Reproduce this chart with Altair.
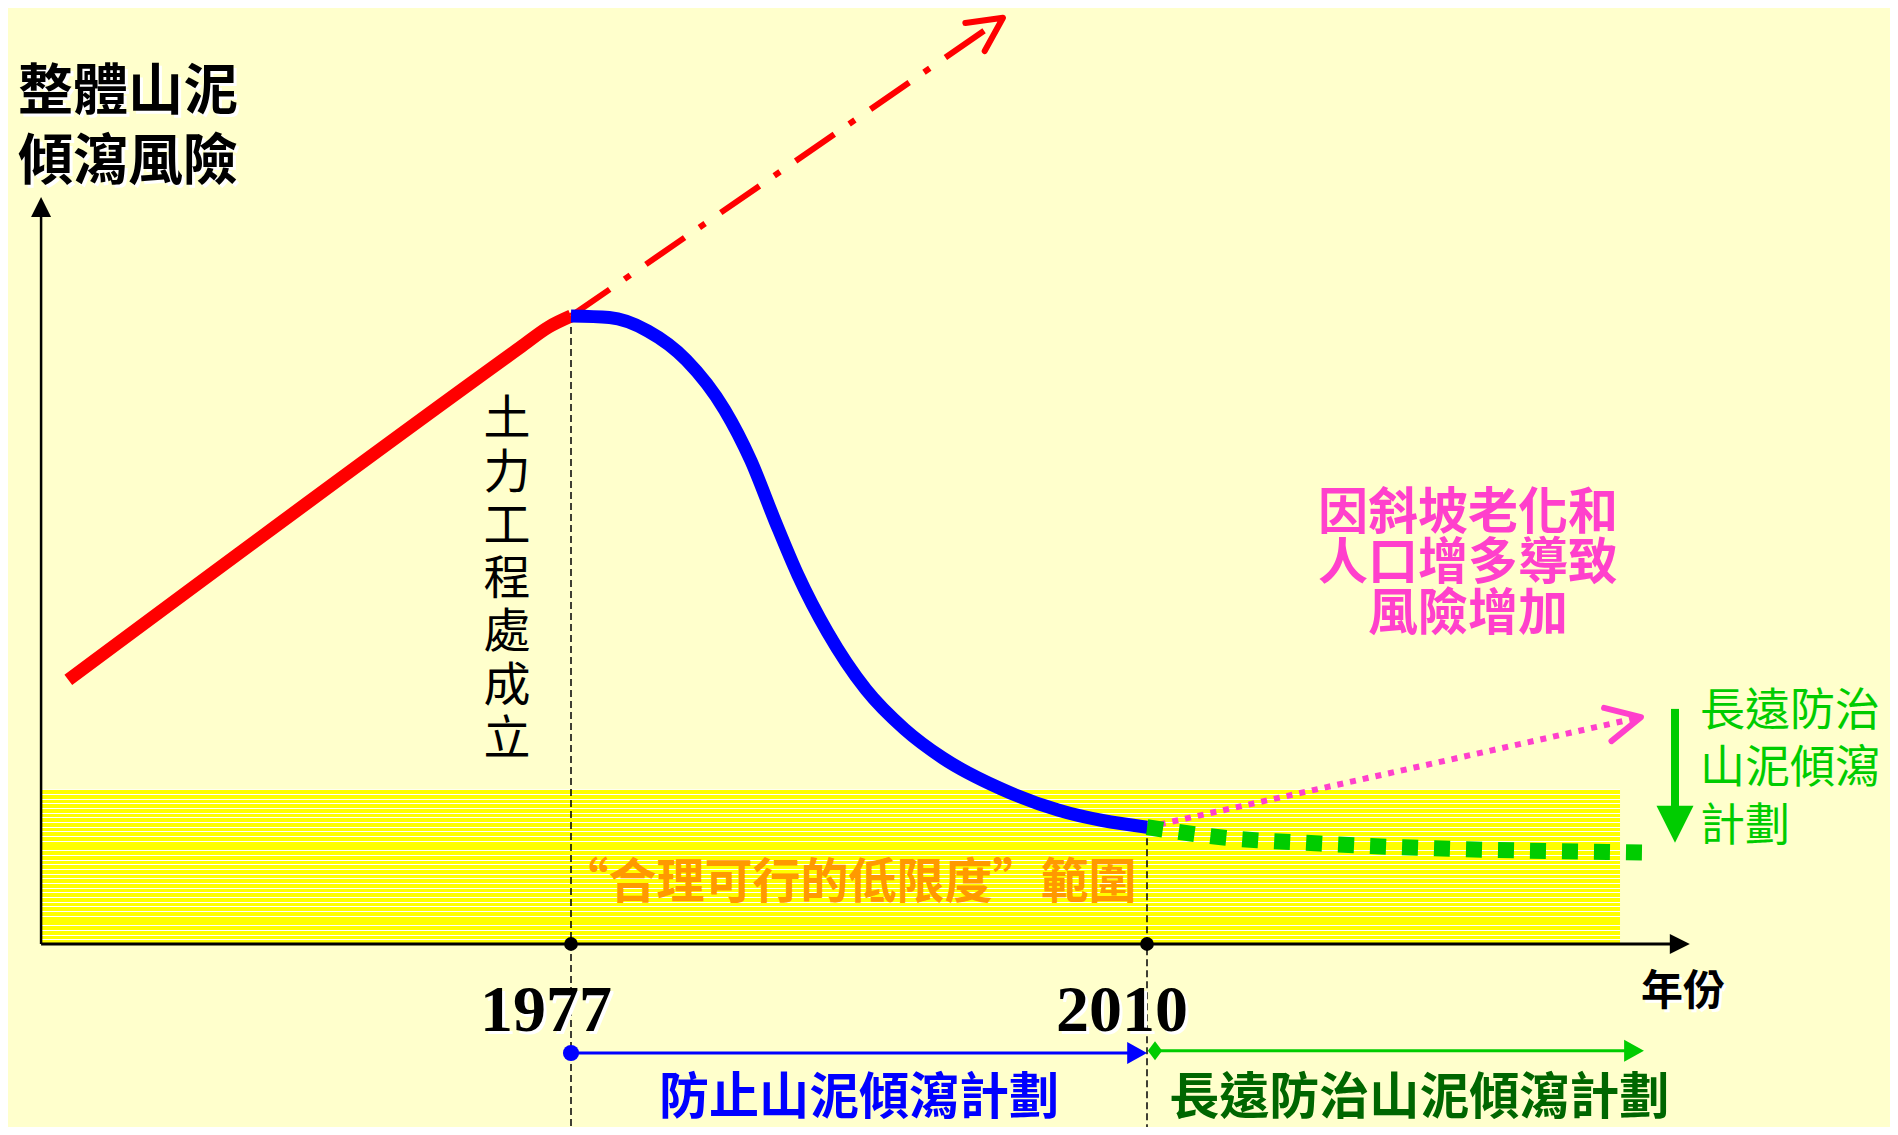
import math
import altair as alt
import pandas as pd

# ---------------- data (x = year, y = relative overall risk) ----------------
MARK_YEARS = [1977, 2010]
MARK_LABELS = ["1977", "2010"]

RED_YEAR = [1948.2, 1974.1, 1975.7, 1977.0]
RED_RISK = [35.5, 80.2, 82.9, 84.4]

TREND_YEAR = [1977.0, 2001.75]
TREND_RISK = [84.4, 124.5]

BLUE_YEAR = [1977.0, 1979.2, 1981.4, 1983.6, 1985.8, 1987.3, 1988.7, 1990.0,
             1991.7, 1993.9, 1996.1, 1998.3, 2001.6, 2004.9, 2010.0]
BLUE_RISK = [84.4, 84.2, 82.4, 78.5, 71.8, 65.0, 56.8, 49.6,
             41.9, 34.2, 28.9, 25.0, 20.9, 18.0, 15.7]

MAG_YEAR = [2010.0, 2038.3]
MAG_RISK = [15.7, 30.5]

GRN_YEAR = [2010.0, 2014.4, 2019.9, 2038.6]
GRN_RISK = [15.7, 14.3, 13.5, 12.3]

BAND_YEARS = [1946.64, 2037.1]
BAND_RISK = [0.0, 20.8]

AXIS_START_YEAR = 1946.64
AXIS_END_YEAR = 2041.1
AXIS_TOP_RISK = 100.4

DOWN_ARROW_YEAR = 2040.25
DOWN_ARROW_RISK = [31.6, 18.3, 13.6]   # top, head base, tip

TIMELINE_RISK = -14.65
PHASE1_YEARS = [1977.0, 2010.0]
PHASE2_YEARS = [2010.46, 2038.47]
GUIDE_BOTTOM = -26.0

# texts
TITLE_LINES = ["整體山泥", "傾瀉風險"]
GEO_LABEL = "土力工程處成立"
RISE_LINES = ["因斜坡老化和", "人口增多導致", "風險增加"]
LONG_LINES = ["長遠防治", "山泥傾瀉", "計劃"]
ALARP_TEXT = "“合理可行的低限度”範圍"
XLABEL = "年份"
PHASE1_TEXT = "防止山泥傾瀉計劃"
PHASE2_TEXT = "長遠防治山泥傾瀉計劃"

# text anchors in data units (year, risk of the first line)
TITLE_POS = (1945.32, 114.5)
GEO_POS = (1973.33, 70.4)
RISE_POS = (2028.39, 57.8)
LONG_POS = (2041.68, 31.2)
ALARP_POS = (1992.9, 8.06)
XLABEL_POS = (2040.71, -6.4)
YEARLBL_RISK = -9.0
PHASE1_POS = (1993.5, -20.8)
PHASE2_POS = (2025.6, -20.8)

# ---------------- styling ----------------
BG = "#FFFFCC"
RED = "#FF0000"
BLUE = "#0000FF"
MAGENTA = "#FF40CC"
GREEN = "#00CC00"
DKGREEN = "#006600"
ORANGE = "#FF9900"
YELLOW = "#FFFF00"
CJK = "Noto Sans CJK TC"
SERIF = "Liberation Serif"

W, H = 1882, 1119
X_RANGE = [563, 1139]
Y_RANGE = [936, 192]
PX_PER_YEAR = (X_RANGE[1] - X_RANGE[0]) / (MARK_YEARS[1] - MARK_YEARS[0])
PX_PER_RISK = (Y_RANGE[0] - Y_RANGE[1]) / 100.0

xs = alt.Scale(domain=MARK_YEARS, range=X_RANGE, nice=False, zero=False)
ys = alt.Scale(domain=[0, 100], range=Y_RANGE, nice=False, zero=False)


def X(f="x"):
    return alt.X(f"{f}:Q", scale=xs, axis=None)


def Y(f="y"):
    return alt.Y(f"{f}:Q", scale=ys, axis=None)


def screen_angle(x0, y0, x1, y1):
    dx = (x1 - x0) * PX_PER_YEAR
    dy = -(y1 - y0) * PX_PER_RISK
    return round(math.degrees(math.atan2(dy, dx)) % 360, 2)


def df(**cols):
    return pd.DataFrame(cols)


CHEVRON = "M-1,-0.5L0,0L-1,0.5"
TRI_RIGHT = "M0,0L-2,-1L-2,1Z"
TRI_UP = "M0,0L-1,2L1,2Z"
TRI_DOWN = "M-1,-2L1,-2L0,0Z"
TL_TRI = "M0,0L-1.8,-1L-1.8,1Z"
DIAMOND = "M0,-1L0.75,0L0,1L-0.75,0Z"

layers = []

# yellow ALARP band with white pin-stripes
stops = []
n = 33
for i in range(n):
    a, b, c = i / n, (i + 0.2) / n, (i + 1) / n
    stops += [{"offset": a, "color": "#FFFFFF"}, {"offset": b, "color": "#FFFFFF"},
              {"offset": b, "color": YELLOW}, {"offset": c, "color": YELLOW}]
band = alt.Chart(df(x=[BAND_YEARS[0]], x2=[BAND_YEARS[1]], y=[BAND_RISK[1]], y2=[BAND_RISK[0]])).mark_rect(
    color={"gradient": "linear", "x1": 0, "y1": 0, "x2": 0, "y2": 1, "stops": stops}
).encode(x=X(), x2="x2:Q", y=Y(), y2="y2:Q")
layers.append(band)

# dashed guides
guides = alt.Chart(df(x=MARK_YEARS, y=[RED_RISK[-1], BLUE_RISK[-1]], y2=[GUIDE_BOTTOM, GUIDE_BOTTOM])).mark_rule(
    color="#000000", strokeWidth=1.5, strokeDash=[7, 4]
).encode(x=X(), y=Y(), y2="y2:Q")
layers.append(guides)

# axes
yaxis = alt.Chart(df(x=[AXIS_START_YEAR], y=[0.0], y2=[AXIS_TOP_RISK - 2.5])).mark_rule(
    color="#000000", strokeWidth=2.5).encode(x=X(), y=Y(), y2="y2:Q")
xaxis = alt.Chart(df(x=[AXIS_START_YEAR], x2=[AXIS_END_YEAR - 1.0], y=[0.0])).mark_rule(
    color="#000000", strokeWidth=3).encode(x=X(), x2="x2:Q", y=Y())
yarrow = alt.Chart(df(x=[AXIS_START_YEAR], y=[AXIS_TOP_RISK])).mark_point(
    shape=TRI_UP, filled=True, size=400, color="#000000", opacity=1).encode(x=X(), y=Y())
xarrow = alt.Chart(df(x=[AXIS_END_YEAR], y=[0.0])).mark_point(
    shape=TRI_RIGHT, filled=True, size=400, color="#000000", opacity=1).encode(x=X(), y=Y())
layers += [yaxis, xaxis, yarrow, xarrow]

# red trend (dash-dot) with open arrow head
trend = alt.Chart(df(x=TREND_YEAR, y=TREND_RISK)).mark_line(
    color=RED, strokeWidth=6, strokeDash=[47, 18, 7, 19], strokeCap="butt"
).encode(x=X(), y=Y())
trend_head = alt.Chart(df(x=[TREND_YEAR[-1]], y=[TREND_RISK[-1]])).mark_point(
    shape=CHEVRON, filled=False, size=4624, stroke=RED, strokeWidth=6, opacity=1,
    strokeCap="round", strokeJoin="round",
    angle=screen_angle(TREND_YEAR[0], TREND_RISK[0], TREND_YEAR[1], TREND_RISK[1])
).encode(x=X(), y=Y())
layers += [trend, trend_head]

# red historic risk
red = alt.Chart(df(x=RED_YEAR, y=RED_RISK)).mark_line(
    color=RED, strokeWidth=13, interpolate="monotone", strokeCap="butt"
).encode(x=X(), y=Y())
layers.append(red)

# magenta dotted projection
mag = alt.Chart(df(x=MAG_YEAR, y=MAG_RISK)).mark_line(
    color=MAGENTA, strokeWidth=6, strokeDash=[6, 7], strokeCap="butt"
).encode(x=X(), y=Y())
mag_head = alt.Chart(df(x=[MAG_YEAR[-1]], y=[MAG_RISK[-1]])).mark_point(
    shape=CHEVRON, filled=False, size=4624, stroke=MAGENTA, strokeWidth=6, opacity=1,
    strokeCap="round", strokeJoin="round",
    angle=screen_angle(MAG_YEAR[0], MAG_RISK[0], MAG_YEAR[1], MAG_RISK[1])
).encode(x=X(), y=Y())
layers += [mag, mag_head]

# green dotted long-term
grn = alt.Chart(df(x=GRN_YEAR, y=GRN_RISK)).mark_line(
    color=GREEN, strokeWidth=16, strokeDash=[16, 16], strokeCap="butt", interpolate="monotone"
).encode(x=X(), y=Y())
layers.append(grn)

# blue curve
blue = alt.Chart(df(x=BLUE_YEAR, y=BLUE_RISK)).mark_line(
    color=BLUE, strokeWidth=13, interpolate="monotone", strokeCap="butt"
).encode(x=X(), y=Y())
layers.append(blue)

# green down arrow
shaft = alt.Chart(df(x=[DOWN_ARROW_YEAR], y=[DOWN_ARROW_RISK[0]], y2=[DOWN_ARROW_RISK[1]])).mark_rule(
    color=GREEN, strokeWidth=8).encode(x=X(), y=Y(), y2="y2:Q")
shaft_head = alt.Chart(df(x=[DOWN_ARROW_YEAR], y=[DOWN_ARROW_RISK[2]])).mark_point(
    shape=TRI_DOWN, filled=True, size=1369, color=GREEN, opacity=1).encode(x=X(), y=Y())
layers += [shaft, shaft_head]

# black dots on the year axis
dots = alt.Chart(df(x=MARK_YEARS, y=[0.0, 0.0])).mark_point(
    shape="circle", filled=True, size=190, color="#000000", opacity=1).encode(x=X(), y=Y())
layers.append(dots)

# time-line of programmes
tl1 = alt.Chart(df(x=[PHASE1_YEARS[0]], x2=[PHASE1_YEARS[1] - 0.8], y=[TIMELINE_RISK])).mark_rule(
    color=BLUE, strokeWidth=3).encode(x=X(), x2="x2:Q", y=Y())
tl1_start = alt.Chart(df(x=[PHASE1_YEARS[0]], y=[TIMELINE_RISK])).mark_point(
    shape="circle", filled=True, size=260, color=BLUE, opacity=1).encode(x=X(), y=Y())
tl1_end = alt.Chart(df(x=[PHASE1_YEARS[1]], y=[TIMELINE_RISK])).mark_point(
    shape=TL_TRI, filled=True, size=484, color=BLUE, opacity=1).encode(x=X(), y=Y())
tl2 = alt.Chart(df(x=[PHASE2_YEARS[0]], x2=[PHASE2_YEARS[1] - 0.8], y=[TIMELINE_RISK + 0.3])).mark_rule(
    color=GREEN, strokeWidth=3).encode(x=X(), x2="x2:Q", y=Y())
tl2_start = alt.Chart(df(x=[PHASE2_YEARS[0]], y=[TIMELINE_RISK + 0.3])).mark_point(
    shape=DIAMOND, filled=True, size=361, color=GREEN, opacity=1).encode(x=X(), y=Y())
tl2_end = alt.Chart(df(x=[PHASE2_YEARS[1]], y=[TIMELINE_RISK + 0.3])).mark_point(
    shape=TL_TRI, filled=True, size=484, color=GREEN, opacity=1).encode(x=X(), y=Y())
layers += [tl1, tl2, tl1_start, tl1_end, tl2_start, tl2_end]


def text_layer(t, pos, size, color, weight="bold", align="center", line_h=None,
               font=CJK, dx=0, dy=0, shadow=False):
    data = df(x=[pos[0]], y=[pos[1]], t=[t])
    out = []
    kw = dict(fontSize=size, font=font, fontWeight=weight, align=align, baseline="middle",
              lineBreak="\n")
    if line_h:
        kw["lineHeight"] = line_h
    if shadow:
        out.append(alt.Chart(data).mark_text(color="#FFFFFF", dx=dx + 3, dy=dy + 3, **kw)
                   .encode(x=X(), y=Y(), text="t:N"))
    out.append(alt.Chart(data).mark_text(color=color, dx=dx, dy=dy, **kw)
               .encode(x=X(), y=Y(), text="t:N"))
    return out


layers += text_layer("\n".join(TITLE_LINES), TITLE_POS, 55, "#000000", align="left",
                     line_h=70, shadow=True)
layers += text_layer("\n".join(list(GEO_LABEL)), GEO_POS, 47, "#000000", weight="normal",
                     line_h=53.3)
layers += text_layer("\n".join(RISE_LINES), RISE_POS, 50, MAGENTA, line_h=50.5)
layers += text_layer("\n".join(LONG_LINES), LONG_POS, 45, GREEN, weight="normal",
                     align="left", line_h=57.5)
layers += text_layer(ALARP_TEXT, ALARP_POS, 48, ORANGE)
layers += text_layer(XLABEL, XLABEL_POS, 42, "#000000", shadow=True)
for yr, lbl in zip(MARK_YEARS, MARK_LABELS):
    layers += text_layer(lbl, (yr, YEARLBL_RISK), 66, "#000000", font=SERIF, dx=-25, shadow=True)
layers += text_layer(PHASE1_TEXT, PHASE1_POS, 50, BLUE)
layers += text_layer(PHASE2_TEXT, PHASE2_POS, 50, DKGREEN)

chart = alt.layer(*layers).properties(
    width=W, height=H, padding=0, autosize=alt.AutoSizeParams(type="none"),
    background=BG
).configure_view(strokeWidth=0)

chart.save("out.html", embed_options={"renderer": "svg", "actions": False})
